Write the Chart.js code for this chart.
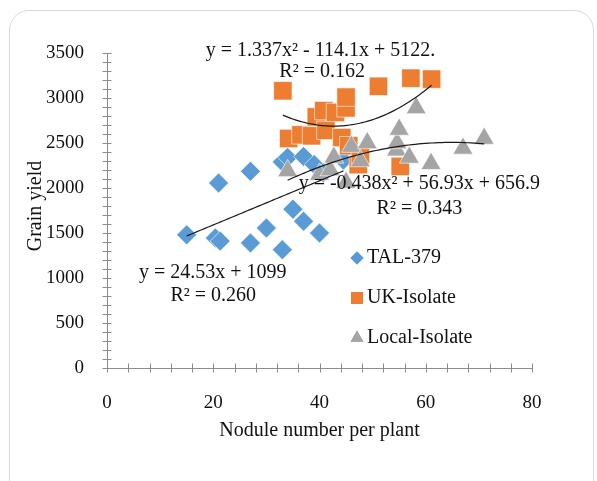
<!DOCTYPE html>
<html>
<head>
<meta charset="utf-8">
<script src="https://cdn.jsdelivr.net/npm/chart.js@4/dist/chart.umd.min.js"></script>
<style>
  html, body { margin: 0; padding: 0; background: #fff; }
  #wrap { position: relative; width: 597px; height: 481px; overflow: hidden; }
  #frame { position: absolute; left: 9px; top: 10px; width: 585px; height: 490px;
           border: 1px solid #d9d9d9; border-radius: 20px; box-sizing: border-box; }
  canvas { position: absolute; left: 0; top: 0; }
</style>
</head>
<body>
<div id="wrap">
  <div id="frame"></div>
  <canvas id="c" width="597" height="481"></canvas>
</div>
<script>
// Nodule number per plant (x) and grain yield (y) for each inoculant
const talX   = [15, 20.4, 21.3, 21, 27, 27, 30, 33, 33, 34, 35, 37, 37, 39, 40, 40.7, 44.5];
const talY   = [1480, 1445, 1410, 2055, 2185, 1390, 1555, 1315, 2290, 2340, 1765, 2350, 1630, 2260, 1500, 2170, 2310];

const ukX    = [33.1, 34.2, 36.5, 38.5, 39.4, 40.8, 41.2, 43.0, 44.2, 45.0, 45.0, 45.5, 47.3, 47.7, 51.1, 55.2, 57.2, 61.1];
const ukY    = [3080, 2550, 2590, 2580, 2790, 2860, 2640, 2840, 2560, 2890, 3010, 2470, 2260, 2370, 3130, 2240, 3220, 3210];

const localX = [34.0, 40.0, 42.0, 42.7, 45.0, 46.0, 47.7, 49.0, 54.5, 54.6, 55.0, 56.9, 58.2, 61.0, 67.0, 71.0];
const localY = [2190, 2150, 2200, 2340, 2060, 2460, 2300, 2500, 2420, 2500, 2650, 2340, 2890, 2270, 2440, 2550];

const seriesNames = ['TAL-379', 'UK-Isolate', 'Local-Isolate'];
const seriesColors = ['#5B9BD5', '#ED7D31', '#A5A5A5'];

// Trendline coefficients as printed on the chart: [c2, c1, c0] for c2*x^2 + c1*x + c0
const talFit   = [0, 24.53, 1099];
const ukFit    = [1.337, -114.1, 5122];
const localFit = [-0.438, 56.93, 656.9];

// Trendline labels, anchored in data units
const fitLabels = [
  { text: 'y = 1.337x² - 114.1x + 5122.', x: 40.2, y: 3525 },
  { text: 'R² = 0.162',                  x: 40.5, y: 3295 },
  { text: 'y = -0.438x² + 56.93x + 656.9', x: 58.8, y: 2045 },
  { text: 'R² = 0.343',                  x: 58.8, y: 1775 },
  { text: 'y = 24.53x + 1099',           x: 19.9, y: 1060 },
  { text: 'R² = 0.260',                  x: 20.0, y: 800 }
];

const xTicks = { min: 0, max: 80, major: 20, minor: 4 };
const yTicks = { min: 0, max: 3500, major: 500, minor: 100 };

const FONT = "'Liberation Serif', 'Times New Roman', serif";
const TEXT = '#111';

function pairs(xs, ys) { return xs.map((x, i) => ({ x: x, y: ys[i] })); }

function fitCurve(c, xs) {
  const lo = Math.min(...xs), hi = Math.max(...xs);
  const pts = [];
  const n = 60;
  for (let i = 0; i <= n; i++) {
    const x = lo + (hi - lo) * i / n;
    pts.push({ x: x, y: c[0] * x * x + c[1] * x + c[2] });
  }
  return pts;
}

function trendSet(c, xs) {
  return {
    type: 'line', data: fitCurve(c, xs), borderColor: '#1a1a1a', borderWidth: 1.2,
    pointRadius: 0, fill: false, tension: 0, order: 0
  };
}

const pointSets = [
  { label: seriesNames[0], data: pairs(talX, talY), pointStyle: 'rectRot', pointRadius: 10, order: 3 },
  { label: seriesNames[1], data: pairs(ukX, ukY), pointStyle: 'rect', pointRadius: 13, order: 2 },
  { label: seriesNames[2], data: pairs(localX, localY), pointStyle: 'triangle', pointRadius: 11.5, order: 1 }
].map((d, i) => Object.assign(d, {
  backgroundColor: seriesColors[i], borderColor: 'rgba(255,255,255,0.6)', borderWidth: 1,
  pointHoverRadius: d.pointRadius
}));

const legendMarks = [
  { style: 'rectRot', radius: 6.5 },
  { style: 'rect', radius: 8.5 },
  { style: 'triangle', radius: 7.5 }
];

// Cross-style tick marks, trendline equations, custom legend and axis titles
const decor = {
  id: 'decor',
  afterDraw(chart) {
    const ctx = chart.ctx;
    const xs = chart.scales.x, ys = chart.scales.y;
    const x0 = xs.getPixelForValue(xTicks.min), y0 = ys.getPixelForValue(yTicks.min);
    ctx.save();
    ctx.strokeStyle = '#8c8c8c';
    ctx.lineWidth = 1;
    ctx.beginPath();
    for (let v = yTicks.min; v <= yTicks.max; v += yTicks.minor) {
      const p = Math.round(ys.getPixelForValue(v)) + 0.5;
      ctx.moveTo(x0 - 4.5, p); ctx.lineTo(x0 + 4.5, p);
    }
    for (let v = xTicks.min; v <= xTicks.max; v += xTicks.minor) {
      const p = Math.round(xs.getPixelForValue(v)) + 0.5;
      ctx.moveTo(p, y0 - 4.5); ctx.lineTo(p, y0 + 4.5);
    }
    ctx.stroke();

    ctx.fillStyle = TEXT;
    ctx.font = '20px ' + FONT;
    ctx.textAlign = 'center';
    ctx.textBaseline = 'middle';
    fitLabels.forEach(l => ctx.fillText(l.text, xs.getPixelForValue(l.x), ys.getPixelForValue(l.y)));

    // Legend
    const lx = 357, ly = [258, 298, 338];
    chart.data.datasets.slice(0, 3).forEach((d, i) => {
      ctx.fillStyle = seriesColors[i];
      Chart.helpers.drawPoint(ctx, { pointStyle: legendMarks[i].style, radius: legendMarks[i].radius, borderWidth: 0, rotation: 0 }, lx, ly[i]);
      ctx.fill();
      ctx.fillStyle = TEXT;
      ctx.textAlign = 'left';
      ctx.fillText(d.label, 367, ly[i]);
    });

    // Axis titles
    ctx.textAlign = 'center';
    ctx.fillText('Nodule number per plant', (chart.chartArea.left + chart.chartArea.right) / 2, 431);
    ctx.translate(36, 206);
    ctx.rotate(-Math.PI / 2);
    ctx.fillText('Grain yield', 0, 0);
    ctx.restore();
  }
};

const plainTick = v => String(v);

new Chart(document.getElementById('c'), {
  type: 'scatter',
  data: {
    datasets: pointSets.concat([
      trendSet(talFit, talX),
      trendSet(ukFit, ukX),
      trendSet(localFit, localX)
    ])
  },
  options: {
    responsive: false,
    animation: false,
    devicePixelRatio: 1,
    layout: { padding: { left: 0, right: 65, top: 53, bottom: 0 } },
    plugins: { legend: { display: false }, tooltip: { enabled: false } },
    scales: {
      x: {
        type: 'linear', min: xTicks.min, max: xTicks.max,
        afterFit(s) { s.height = 113; },
        ticks: { stepSize: xTicks.major, color: TEXT, padding: 24, callback: plainTick, font: { family: FONT, size: 19 } },
        grid: { display: true, drawOnChartArea: false, drawTicks: false },
        border: { display: true, color: '#8c8c8c', width: 1 }
      },
      y: {
        type: 'linear', min: yTicks.min, max: yTicks.max,
        afterFit(s) { s.width = 107; },
        ticks: { stepSize: yTicks.major, color: TEXT, padding: 23, callback: plainTick, font: { family: FONT, size: 19 } },
        grid: { display: true, drawOnChartArea: false, drawTicks: false },
        border: { display: true, color: '#8c8c8c', width: 1 }
      }
    }
  },
  plugins: [decor]
});
</script>
</body>
</html>
